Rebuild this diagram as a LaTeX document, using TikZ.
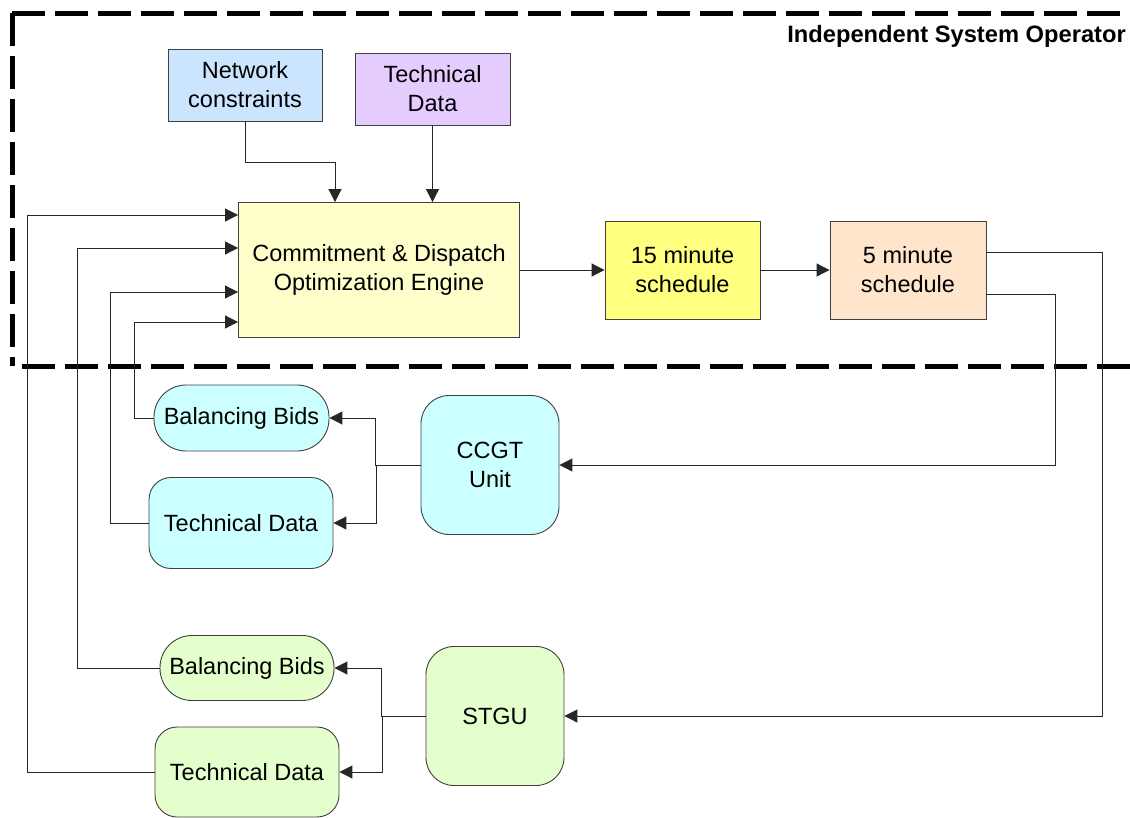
\documentclass[tikz,border=0pt]{standalone}
\usepackage{fontspec}
\setmainfont{Liberation Sans}
\usetikzlibrary{arrows.meta,calc}

\begin{document}
\begin{tikzpicture}[x=1pt,y=-1pt,
  box/.style={draw=black!75, line width=0.9pt, align=center, inner sep=0pt,
              font=\fontsize{23.5}{29}\selectfont},
  pill/.style={box, rounded corners=32pt},
  softbox/.style={box, rounded corners=22pt},
  unitbox/.style={box, rounded corners=28pt, minimum width=138pt, minimum height=139pt},
  wire/.style={draw=black!85, line width=1pt},
  arr/.style={wire, -{Triangle[length=13pt,width=13pt]}},
  frame/.style={line width=5pt, dash pattern=on 33pt off 10pt},
]
\useasboundingbox (0,0) rectangle (1130,817);
\fill[white] (0,0) rectangle (1130,817);

% operator boundary
\draw[frame] (12,13) -- (1130,13);
\draw[frame] (12,13) -- (12,366);
\draw[frame] (22,366) -- (1130,366);
\node[anchor=east, inner sep=0pt, font=\bfseries\fontsize{23.7}{28}\selectfont] (iso) at (1126,36) {Independent System Operator};

% operator side
\node[box, fill={rgb,255:red,204;green,229;blue,255}, minimum width=154pt, minimum height=72pt] (net) at (245,85) {Network\\constraints};
\node[box, fill={rgb,255:red,229;green,204;blue,255}, minimum width=155pt, minimum height=72pt] (tdi) at (432.5,89) {Technical\\Data};
\node[box, fill={rgb,255:red,255;green,255;blue,204}, minimum width=281pt, minimum height=135pt] (engine) at (379,270) {Commitment \& Dispatch\\Optimization Engine};
\node[box, fill={rgb,255:red,255;green,255;blue,128}, minimum width=155pt, minimum height=98pt] (s15) at (682.5,270) {15 minute\\schedule};
\node[box, fill={rgb,255:red,255;green,229;blue,204}, minimum width=156pt, minimum height=98pt] (s5) at (908,270) {5 minute\\schedule};

% CCGT unit
\node[unitbox, fill={rgb,255:red,204;green,255;blue,255}] (ccgt) at (490,465) {CCGT\\Unit};
\node[pill, fill={rgb,255:red,204;green,255;blue,255}, minimum width=175pt, minimum height=66pt] (bbA) at (241.5,418) {Balancing Bids};
\node[softbox, fill={rgb,255:red,204;green,255;blue,255}, minimum width=184pt, minimum height=91pt] (tdA) at (241,523) {Technical Data};

% STGU
\node[unitbox, fill={rgb,255:red,229;green,255;blue,204}] (stgu) at (495,716) {STGU};
\node[pill, fill={rgb,255:red,229;green,255;blue,204}, minimum width=174pt, minimum height=65pt] (bbB) at (247,668) {Balancing Bids};
\node[softbox, fill={rgb,255:red,229;green,255;blue,204}, minimum width=184pt, minimum height=90pt] (tdB) at (247,772) {Technical Data};

% inputs of the engine
\coordinate (inA) at ($(engine.west)+(0,52)$);
\coordinate (inB) at ($(engine.west)+(0,22)$);
\coordinate (inC) at ($(engine.west)+(0,-22)$);
\coordinate (inD) at ($(engine.west)+(0,-55)$);

\draw[arr] (net.south) -- ++(0,41) -| ($(engine.north)+(-44,0)$);
\draw[arr] (tdi.south) -- (tdi.south |- engine.north);

% schedule chain
\draw[arr] (engine.east) -- (s15.west);
\draw[arr] (s15.east) -- (s5.west);
\draw[arr] ([yshift=18pt]s5.east) -- ++(116,0) |- (stgu.east);
\draw[arr] ([yshift=-24pt]s5.east) -- ++(69,0) |- (ccgt.east);

% unit outputs
\draw[arr] (ccgt.west) -- ++(-45,0) |- (bbA.east);
\draw[arr] (ccgt.west) -- ++(-44,0) |- (tdA.east);
\draw[arr] (stgu.west) -- ++(-44,0) |- (bbB.east);
\draw[arr] (stgu.west) -- ++(-43,0) |- (tdB.east);

% feedback into the engine
\draw[arr] (bbA.west) -- ++(-19,0) |- (inA);
\draw[arr] (tdA.west) -- ++(-38,0) |- (inB);
\draw[arr] (bbB.west) -- ++(-82,0) |- (inC);
\draw[arr] (tdB.west) -- ++(-127,0) |- (inD);
\end{tikzpicture}
\end{document}
